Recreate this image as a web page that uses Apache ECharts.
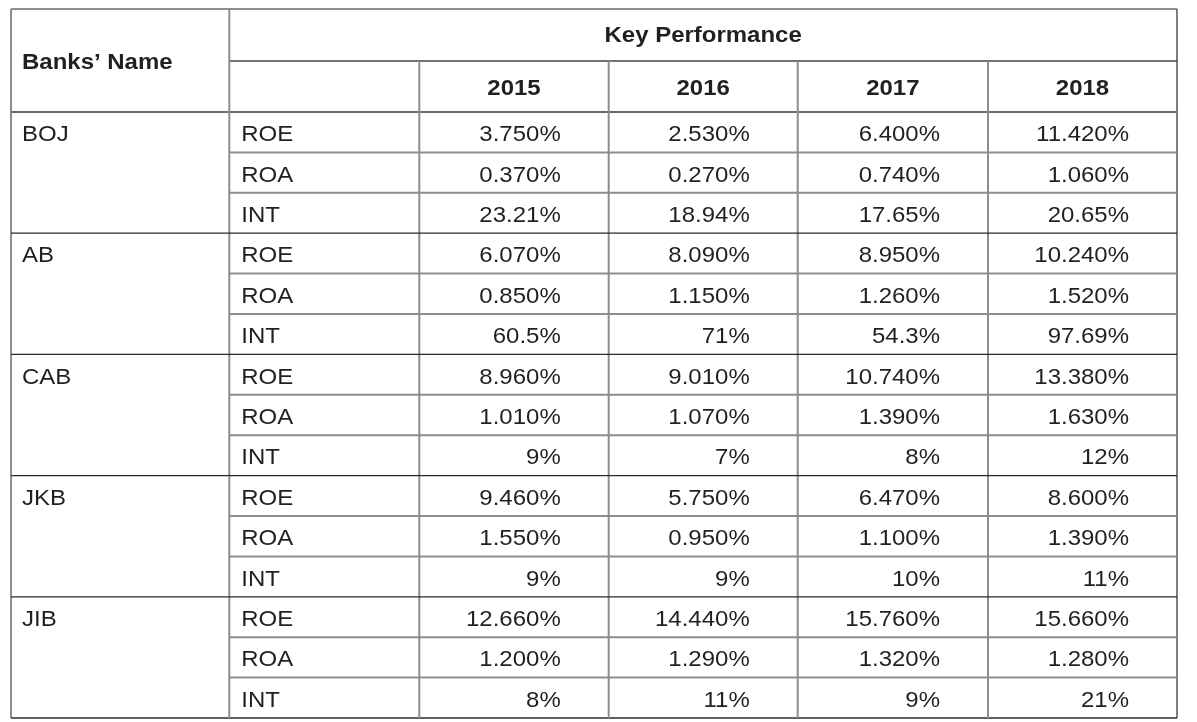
<!DOCTYPE html>
<html>
<head>
<meta charset="utf-8">
<script src="https://cdn.jsdelivr.net/npm/echarts@6/dist/echarts.min.js"></script>
<style>html,body{margin:0;padding:0;background:#fff}#c{width:1197px;height:722px}</style>
</head>
<body>
<div id="c"></div>
<script>
// ---- data ----
const headerBank = "Banks’ Name";
const headerGroup = "Key Performance";
const years = ["2015", "2016", "2017", "2018"];
const banks = ["BOJ", "AB", "CAB", "JKB", "JIB"];
const metrics = ["ROE", "ROA", "INT"];
const BOJ = [["3.750%", "2.530%", "6.400%", "11.420%"], ["0.370%", "0.270%", "0.740%", "1.060%"], ["23.21%", "18.94%", "17.65%", "20.65%"]];
const AB  = [["6.070%", "8.090%", "8.950%", "10.240%"], ["0.850%", "1.150%", "1.260%", "1.520%"], ["60.5%", "71%", "54.3%", "97.69%"]];
const CAB = [["8.960%", "9.010%", "10.740%", "13.380%"], ["1.010%", "1.070%", "1.390%", "1.630%"], ["9%", "7%", "8%", "12%"]];
const JKB = [["9.460%", "5.750%", "6.470%", "8.600%"], ["1.550%", "0.950%", "1.100%", "1.390%"], ["9%", "9%", "10%", "11%"]];
const JIB = [["12.660%", "14.440%", "15.760%", "15.660%"], ["1.200%", "1.290%", "1.320%", "1.280%"], ["8%", "11%", "9%", "21%"]];
const bankValues = [BOJ, AB, CAB, JKB, JIB];

// ---- layout (table coordinate units) ----
const W = 1166, H = 709;
const colEdges = [0, 218.3, 408.3, 597.7, 786.7, 977, W];
const headSplit = 52, headBottom = 103;
const rowH = (H - headBottom) / (banks.length * metrics.length);
const rowTop = i => headBottom + i * rowH;

const GRAY = '#8d8d8d', DARK = '#2a2a2a', TXT = '#231f20';
const lines = [];
lines.push([0, 0, W, 0, GRAY, 2]);
lines.push([0, 0, 0, H, GRAY, 2]);
lines.push([W, 0, W, H, '#3a3a3a', 1.3]);
lines.push([0, H, W, H, DARK, 1.6]);
lines.push([colEdges[1], headSplit, W, headSplit, '#444', 1.3]);
lines.push([0, headBottom, W, headBottom, '#6a6a6a', 1.8]);
lines.push([colEdges[1], 0, colEdges[1], H, GRAY, 2]);
for (let c = 2; c < colEdges.length - 1; c++) lines.push([colEdges[c], headSplit, colEdges[c], H, GRAY, 2]);
for (let b = 0; b < banks.length; b++) {
  for (let m = 1; m < metrics.length; m++) {
    const y = rowTop(b * metrics.length + m);
    lines.push([colEdges[1], y, W, y, GRAY, 2]);
  }
  if (b > 0) { const y = rowTop(b * metrics.length); lines.push([0, y, W, y, DARK, 1.3]); }
}

// text cells: [x, y, text, align, bold]
const texts = [];
texts.push([11, (0 + headBottom) / 2 + 2, headerBank, 'left', 1]);
texts.push([(colEdges[1] + W) / 2, headSplit / 2 + 1, headerGroup, 'center', 1]);
years.forEach((yr, i) => texts.push([(colEdges[i + 2] + colEdges[i + 3]) / 2, (headSplit + headBottom) / 2 + 2.5, yr, 'center', 1]));
banks.forEach((bk, b) => {
  const vals = bankValues[b];
  texts.push([11, rowTop(b * 3) + rowH / 2 + 3, bk, 'left', 0]);
  metrics.forEach((mt, m) => {
    const yc = rowTop(b * 3 + m) + rowH / 2 + 3;
    texts.push([colEdges[1] + 12, yc, mt, 'left', 0]);
    vals[m].forEach((v, i) => texts.push([colEdges[i + 3] - 48, yc, v, 'right', 0]));
  });
});

const chart = echarts.init(document.getElementById('c'), null, { renderer: 'canvas' });
chart.setOption({
  animation: false,
  backgroundColor: '#fff',
  grid: { left: 11, top: 9, width: W, height: H },
  xAxis: { type: 'value', min: 0, max: W, show: false },
  yAxis: { type: 'value', min: 0, max: H, inverse: true, show: false },
  series: [
    {
      type: 'custom', coordinateSystem: 'cartesian2d', silent: true,
      data: lines,
      encode: { x: [0, 2], y: [1, 3] },
      renderItem: (params, api) => {
        const d = lines[params.dataIndex];
        const p1 = api.coord([d[0], d[1]]), p2 = api.coord([d[2], d[3]]);
        return { type: 'line', shape: { x1: p1[0], y1: p1[1], x2: p2[0], y2: p2[1] },
                 style: { stroke: d[4], lineWidth: d[5] } };
      }
    },
    {
      type: 'custom', coordinateSystem: 'cartesian2d', silent: true,
      data: texts.map(t => [t[0], t[1]]),
      encode: { x: 0, y: 1 },
      renderItem: (params, api) => {
        const t = texts[params.dataIndex];
        const p = api.coord([t[0], t[1]]);
        return { type: 'text', x: p[0], y: p[1], scaleX: 1.09,
                 style: { text: t[2], fill: TXT, align: t[3], verticalAlign: 'middle',
                          fontFamily: 'Liberation Sans', fontSize: 22,
                          fontWeight: t[4] ? 'bold' : 'normal' } };
      }
    }
  ]
});
</script>
</body>
</html>
